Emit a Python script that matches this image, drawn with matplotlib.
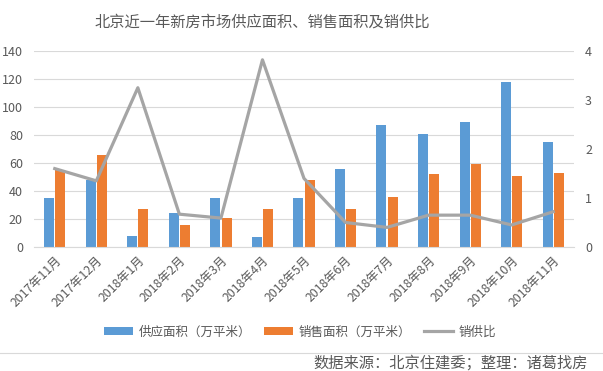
import numpy as np
import matplotlib
matplotlib.use("Agg")
import matplotlib.pyplot as plt

plt.rcParams["font.family"] = ["Noto Sans CJK SC", "DejaVu Sans"]

months = ["2017年11月", "2017年12月", "2018年1月", "2018年2月", "2018年3月",
          "2018年4月", "2018年5月", "2018年6月", "2018年7月", "2018年8月",
          "2018年9月", "2018年10月", "2018年11月"]
supply = [35, 48, 8, 24, 35, 7, 35, 56, 87, 81, 89, 118, 75]
sales = [55, 66, 27, 16, 21, 27, 48, 27, 36, 52, 59, 51, 53]
ratio = [1.6, 1.35, 3.25, 0.67, 0.59, 3.82, 1.4, 0.5, 0.4, 0.65, 0.65, 0.45, 0.72]

grey = "#595959"
x = np.arange(len(months))

fig = plt.figure(figsize=(6.03, 3.71), dpi=100)
ax = fig.add_axes([34 / 603, 1 - 247 / 371, 540 / 603, 196 / 371])
ax2 = ax.twinx()

ax.bar(x - 0.135, supply, width=0.24, color="#5b9bd5", label="供应面积（万平米）", zorder=2)
ax.bar(x + 0.135, sales, width=0.24, color="#ed7d31", label="销售面积（万平米）", zorder=2)
ax2.plot(x, ratio, color="#a5a5a5", linewidth=2.3, label="销供比")

ax.set_xlim(-0.5, len(months) - 0.5)
ax.set_ylim(0, 140)
ax.set_yticks(range(0, 141, 20))
ax2.set_ylim(0, 4)
ax2.set_yticks(range(0, 5))
ax.grid(axis="y", color="#d9d9d9", linewidth=0.8, zorder=0)
ax.set_axisbelow(True)

for a in (ax, ax2):
    for s in a.spines.values():
        s.set_visible(False)
    a.tick_params(length=0, colors=grey, labelsize=9)
ax.spines["bottom"].set_visible(True)
ax.spines["bottom"].set_color("#d9d9d9")

ax.set_xticks(x)
ax.set_xticklabels(months, rotation=45, ha="right", rotation_mode="anchor", fontsize=8.8)
ax.tick_params(axis="x", pad=5)
ax.tick_params(axis="y", pad=8)
ax2.tick_params(axis="y", pad=8)

fig.text(262 / 603, 1 - 22 / 371, "北京近一年新房市场供应面积、销售面积及销供比",
         ha="center", va="center", fontsize=11, color=grey)

h1, l1 = ax.get_legend_handles_labels()
h2, l2 = ax2.get_legend_handles_labels()
fig.legend(h1 + h2, l1 + l2, loc="center", bbox_to_anchor=(300 / 603, 1 - 332 / 371),
           ncol=3, frameon=False, fontsize=9, handlelength=2.3, handleheight=0.6,
           columnspacing=1.0, handletextpad=0.5, labelcolor=grey)

fig.add_artist(plt.Line2D([0, 1], [1 - 353 / 371, 1 - 353 / 371], color="#d9d9d9",
                          linewidth=0.8, transform=fig.transFigure))
fig.text(588 / 603, 1 - 363 / 371, "数据来源：北京住建委；整理：诸葛找房",
         ha="right", va="center", fontsize=11, color=grey)

fig.savefig("out.png", dpi=100)
